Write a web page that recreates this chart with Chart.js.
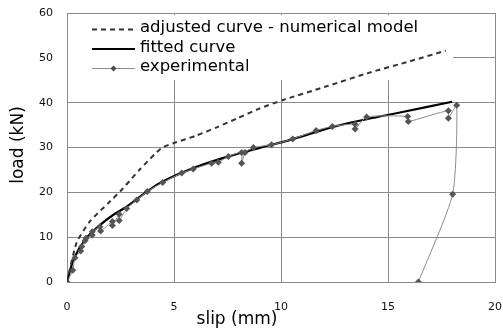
<!DOCTYPE html>
<html>
<head>
<meta charset="utf-8">
<script src="https://cdn.jsdelivr.net/npm/chart.js@4/dist/chart.umd.min.js"></script>
<style>
html,body{margin:0;padding:0;background:#fff;}
canvas{display:block;}
</style>
</head>
<body>
<canvas id="c" width="503" height="330"></canvas>
<script>
// ---- data ----
const seriesNames = ["adjusted curve - numerical model", "fitted curve", "experimental"];
const xTitle = "slip (mm)";
const yTitle = "load (kN)";

const adjSlip = [0, 0.45, 1.07, 1.93, 2.6, 3.4, 4.42, 5.0, 6.0, 7.0, 8.0, 9.0, 10.1, 12.1, 14.2, 16.0, 17.7];
const adjLoad = [0, 8.8, 13.5, 17.6, 20.8, 25.1, 29.9, 31.0, 32.6, 34.5, 36.6, 38.7, 40.6, 43.6, 46.8, 49.2, 51.6];

const fitSlip = [0, 0.33, 0.84, 1.54, 2.17, 2.79, 3.75, 4.47, 5.9, 7.54, 9.0, 10.5, 12.44, 14.0, 15.56, 18.0];
const fitLoad = [0, 5.3, 9.4, 12.7, 15.0, 16.8, 20.2, 22.4, 25.4, 28.0, 29.9, 31.8, 34.6, 36.3, 37.8, 40.2];

const expSlip = [0, 0.27, 0.37, 0.64, 0.69, 0.84, 0.89, 1.18, 1.18, 1.54, 1.57, 2.12, 2.12, 2.44, 2.44, 2.79, 3.26, 3.75, 4.47, 5.36, 5.9, 6.76, 7.07, 7.54, 8.16, 8.16, 8.32, 8.71, 9.56, 10.55, 11.64, 12.4, 13.46, 13.46, 14.0, 15.92, 15.95, 17.82, 17.82, 18.21, 18.02, 16.42];
const expLoad = [0, 2.6, 5.4, 6.9, 7.9, 9.2, 9.75, 10.5, 11.2, 12.3, 11.4, 13.5, 12.6, 15.1, 13.7, 16.4, 18.3, 20.2, 22.2, 24.3, 25.2, 26.5, 26.7, 28.0, 28.9, 26.5, 28.9, 30.0, 30.6, 31.9, 33.8, 34.7, 35.2, 34.1, 36.8, 36.9, 35.8, 38.2, 36.5, 39.4, 19.6, 0];

const xTicks = [0, 5, 10, 15, 20];
const yTicks = [0, 10, 20, 30, 40, 50, 60];

const pts = (xs, ys) => xs.map((x, i) => ({x: x, y: ys[i]}));

const GRID = '#8a8a8a';
const FONT = "'DejaVu Sans', sans-serif";

const legendPlugin = {
  id: 'customLegend',
  beforeDatasetsDraw(chart) {
    const ctx = chart.ctx;
    const ca = chart.chartArea;
    ctx.save();
    ctx.fillStyle = '#ffffff';
    ctx.fillRect(ca.left + 1, ca.top + 2, 453 - (ca.left + 1), 80 - (ca.top + 2));
    ctx.restore();
  },
  afterDraw(chart) {
    const ctx = chart.ctx;
    ctx.save();
    const x0 = 92, x1 = 135, tx = 140;
    const rows = [29.5, 49, 68.5];
    // dashed
    ctx.strokeStyle = '#333333';
    ctx.lineWidth = 2;
    ctx.setLineDash([5, 4]);
    ctx.beginPath(); ctx.moveTo(x0, rows[0]); ctx.lineTo(x1, rows[0]); ctx.stroke();
    ctx.setLineDash([]);
    // solid
    ctx.strokeStyle = '#000000';
    ctx.lineWidth = 2;
    ctx.beginPath(); ctx.moveTo(x0, rows[1]); ctx.lineTo(x1, rows[1]); ctx.stroke();
    // experimental
    ctx.strokeStyle = '#8c8c8c';
    ctx.lineWidth = 1;
    ctx.beginPath(); ctx.moveTo(x0, rows[2]); ctx.lineTo(x1, rows[2]); ctx.stroke();
    ctx.fillStyle = '#4a4a4a';
    const cx = (x0 + x1) / 2, r = 3;
    ctx.beginPath(); ctx.moveTo(cx, rows[2] - r); ctx.lineTo(cx + r, rows[2]); ctx.lineTo(cx, rows[2] + r); ctx.lineTo(cx - r, rows[2]); ctx.closePath(); ctx.fill();
    // texts
    ctx.fillStyle = '#000000';
    ctx.font = '16.5px ' + FONT;
    ctx.textBaseline = 'middle';
    ctx.textAlign = 'left';
    seriesNames.forEach((n, i) => ctx.fillText(n, tx, rows[i] - 1.5));
    // axis titles
    ctx.textAlign = 'center';
    ctx.font = '17px ' + FONT;
    ctx.fillText(xTitle, 237, 320);
    ctx.translate(19, 145);
    ctx.rotate(-Math.PI / 2);
    ctx.fillText(yTitle, 0, 0);
    ctx.restore();
  }
};

new Chart(document.getElementById('c'), {
  type: 'line',
  data: {
    datasets: [
      {
        label: seriesNames[0],
        data: pts(adjSlip, adjLoad),
        borderColor: '#333333',
        borderWidth: 2,
        borderDash: [5, 4],
        pointRadius: 0,
        tension: 0.2,
        fill: false
      },
      {
        label: seriesNames[2],
        data: pts(expSlip, expLoad),
        borderColor: '#8c8c8c',
        borderWidth: 1,
        pointStyle: 'rectRot',
        pointRadius: 3.5,
        pointBackgroundColor: '#555555',
        pointBorderColor: '#555555',
        pointBorderWidth: 0,
        tension: 0.2,
        fill: false
      },
      {
        label: seriesNames[1],
        data: pts(fitSlip, fitLoad),
        borderColor: '#000000',
        borderWidth: 2.2,
        pointRadius: 0,
        tension: 0.4,
        fill: false
      }
    ]
  },
  options: {
    responsive: false,
    animation: false,
    events: [],
    layout: {padding: {top: 13, right: 8, left: 0, bottom: 0}},
    plugins: {legend: {display: false}, tooltip: {enabled: false}, title: {display: false}},
    scales: {
      x: {
        type: 'linear',
        min: 0, max: 20,
        afterBuildTicks: (s) => { s.ticks = xTicks.map(v => ({value: v})); },
        afterFit: (s) => { s.height = 48; s.paddingLeft = 0; s.paddingRight = 0; },
        grid: {color: GRID, lineWidth: 1, drawTicks: false},
        border: {color: GRID, width: 1},
        ticks: {padding: 19, color: '#111', font: {family: FONT, size: 11}, maxRotation: 0}
      },
      y: {
        type: 'linear',
        min: 0, max: 60,
        afterBuildTicks: (s) => { s.ticks = yTicks.map(v => ({value: v})); },
        afterFit: (s) => { s.width = 67; s.paddingTop = 0; s.paddingBottom = 0; },
        grid: {color: GRID, lineWidth: 1, drawTicks: false},
        border: {color: GRID, width: 1},
        ticks: {padding: 14, color: '#111', font: {family: FONT, size: 11}}
      }
    }
  },
  plugins: [legendPlugin]
});
</script>
</body>
</html>
